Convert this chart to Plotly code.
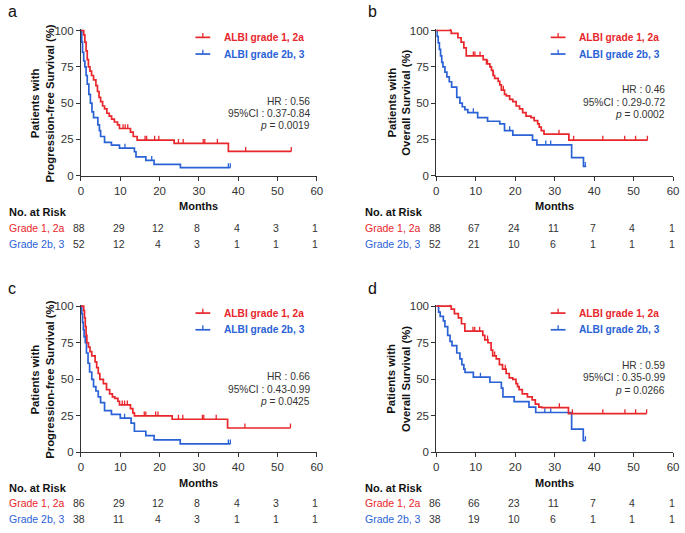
import numpy as np
import plotly.graph_objects as go

W, H = 685, 533
RED = "#E8262B"
BLUE = "#2A62D6"
TXT = "#333333"
FONT = "Liberation Sans, Arial, sans-serif"

# ---------------- data ----------------
months_ticks = [0, 10, 20, 30, 40, 50, 60]
surv_ticks = [0, 25, 50, 75, 100]

# Panel a (PFS)
a_red_t = [0, 0.7, 1.0, 1.3, 1.6, 1.9, 2.3, 2.7, 3.2, 3.8, 4.2, 4.6, 5.0, 5.5, 6.0, 6.6, 7.2, 7.8, 8.5, 9.3, 9.8, 12.6, 13.3, 14.3, 23.7, 37.5, 53.5]
a_red_s = [100, 97, 92, 86, 80, 75, 72, 69, 66, 62, 58, 54, 51, 48, 46, 43, 41, 39, 37, 35, 32.5, 30, 27, 24.5, 22.3, 16.7, 16.7]
a_red_c = [10.7, 11.25, 11.9, 16.3, 16.7, 18.75, 19.8, 24.8, 26.0, 31.1, 31.5, 34.7, 41.9, 53.5]
a_blue_t = [0, 0.2, 0.4, 0.7, 1.0, 1.3, 1.6, 2.0, 2.4, 2.8, 3.2, 4.3, 4.7, 5.0, 6.0, 7.75, 9.8, 13.6, 14.0, 16.5, 18.6, 25.3, 38.0]
a_blue_s = [100, 92, 85, 79, 75, 69, 63, 56, 50, 44, 40, 35, 31, 27, 23, 21, 19, 16.5, 13, 10.5, 7.8, 5.6, 5.6]
a_blue_c = [11.2, 18.0, 37.5, 38.0]

# Panel b (OS)
b_red_t = [0, 3.8, 5.5, 6.3, 7.0, 7.6, 11.9, 12.75, 13.6, 14.0, 14.4, 14.8, 15.7, 16.1, 16.5, 17.3, 17.75, 18.6, 19.4, 20.25, 21.1, 21.9, 22.75, 24.0, 24.8, 25.7, 26.1, 26.6, 27.3, 33.6, 53.5]
b_red_s = [100, 98, 95, 92, 88, 82.5, 80, 77, 75, 72.5, 69, 67, 65, 62.5, 59, 56, 55, 52.5, 51, 48, 46, 43.5, 41, 40, 38, 35.7, 33.5, 31, 28.6, 24.5, 24.5]
b_red_c = [3.6, 9.4, 9.8, 11.1, 13.0, 14.5, 17.0, 31.1, 34.8, 42.2, 47.75, 50.5, 53.5]
b_blue_t = [0, 0.2, 0.5, 0.8, 1.1, 1.4, 1.7, 2.2, 2.7, 3.3, 3.9, 5.2, 6.0, 6.6, 7.25, 8.0, 10.5, 13.0, 16.1, 17.3, 19.4, 24.4, 25.5, 34.3, 37.3, 38.0]
b_blue_s = [100, 96, 91.5, 87, 82.5, 78, 75, 71.4, 68, 64.7, 61, 54, 50, 47.5, 45.5, 43.5, 40, 37.5, 35.7, 31, 28, 24.5, 21.3, 12.5, 6.5, 6.5]
b_blue_c = [9.4, 18.6, 27.75, 29.0, 37.75]

# Panel c (PFS)
c_red_t = [0, 0.7, 0.9, 1.1, 1.3, 1.5, 1.9, 2.3, 2.75, 3.6, 4.0, 4.4, 4.8, 5.7, 6.5, 7.3, 8.0, 8.6, 9.4, 9.8, 12.6, 13.2, 13.6, 23.2, 37.3, 53.3]
c_red_s = [100, 97, 92, 86, 80, 75, 72, 69, 66, 62, 58, 54, 50, 47, 43, 40, 38, 37, 35, 32.5, 30, 27, 25, 22.7, 16.7, 16.7]
c_red_c = [10.5, 11.1, 11.8, 16.1, 16.5, 19.0, 19.6, 24.8, 25.9, 30.9, 31.25, 34.4, 41.7, 53.3]
c_blue_t = [0, 0.2, 0.4, 0.6, 0.8, 1.1, 1.4, 1.8, 2.2, 2.75, 3.2, 3.8, 4.4, 5.0, 6.0, 7.75, 10.0, 12.75, 13.6, 16.5, 18.6, 25.25, 38.0]
c_blue_s = [100, 95, 89, 84, 79, 75, 68, 61, 55, 50, 45, 42, 38, 34, 28.6, 26, 23.5, 20, 14.5, 11.5, 8.6, 5.8, 5.8]
c_blue_c = [11.1, 37.5, 38.0]

# Panel d (OS)
d_red_t = [0, 3.8, 4.6, 5.6, 6.4, 7.25, 11.8, 12.3, 13.1, 13.9, 14.3, 15.2, 16.0, 16.8, 17.7, 18.5, 19.4, 20.2, 20.6, 21.0, 21.8, 23.1, 24.3, 25.1, 26.0, 26.8, 33.5, 53.3]
d_red_s = [100, 98, 95, 92, 88, 83, 80, 77, 75, 70, 66, 64, 60, 57, 54, 51, 50, 47, 45, 43, 40, 38, 36, 33, 31, 30.6, 26.6, 26.6]
d_red_c = [3.5, 9.3, 9.75, 11.0, 13.0, 14.8, 17.5, 31.2, 34.5, 42.2, 47.8, 50.5, 53.3]
d_blue_t = [0, 0.6, 1.0, 1.8, 2.2, 2.9, 3.5, 4.0, 5.2, 6.0, 6.5, 7.0, 7.3, 9.4, 13.6, 16.5, 16.9, 19.75, 23.5, 25.2, 34.3, 37.25, 37.8]
d_blue_s = [100, 96, 93, 90, 86, 80, 76, 73, 68, 64, 60, 57, 54.8, 51.5, 48, 44, 38, 34.7, 31, 27.3, 16, 8, 8]
d_blue_c = [11.2, 27.5, 29.0, 37.8]

legend_red = "ALBI grade 1, 2a"
legend_blue = "ALBI grade 2b, 3"
row_red = "Grade 1, 2a"
row_blue = "Grade 2b, 3"

a_stats = ["HR : 0.56", "95%CI : 0.37-0.84", "<i>p</i> = 0.0019"]
b_stats = ["HR : 0.46", "95%CI : 0.29-0.72", "<i>p</i> = 0.0002"]
c_stats = ["HR : 0.66", "95%CI : 0.43-0.99", "<i>p</i> = 0.0425"]
d_stats = ["HR : 0.59", "95%CI : 0.35-0.99", "<i>p</i> = 0.0266"]

risk_months = [0, 10, 20, 30, 40, 50, 60]
a_risk_red = [88, 29, 12, 8, 4, 3, 1]
a_risk_blue = [52, 12, 4, 3, 1, 1, 1]
b_risk_red = [88, 67, 24, 11, 7, 4, 1]
b_risk_blue = [52, 21, 10, 6, 1, 1, 1]
c_risk_red = [86, 29, 12, 8, 4, 3, 1]
c_risk_blue = [38, 11, 4, 3, 1, 1, 1]
d_risk_red = [86, 66, 23, 11, 7, 4, 1]
d_risk_blue = [38, 19, 10, 6, 1, 1, 1]

pfs_title = "Patients with<br>Progression-free Survival (%)"
os_title = "Patients with<br>Overall Survival (%)"

# ---------------- layout geometry (pixels) ----------------
def px(x, y):
    return x / W, 1 - y / H

panels = [
    dict(letter="a", x0=79, x1=318, yb=175, yt=27,
         red=(a_red_t, a_red_s, a_red_c), blue=(a_blue_t, a_blue_s, a_blue_c),
         stats=a_stats, stat_x=313, stat_y=[99, 112, 124],
         risk=(a_risk_red, a_risk_blue), title=pfs_title, risk_left=4,
         risk_y=[206, 211.5, 228.5, 245], leg_x=195, leg_y=[34, 51],
         title_x=40, letter_xy=(3, 8)),
    dict(letter="b", x0=439, x1=679, yb=175, yt=27,
         red=(b_red_t, b_red_s, b_red_c), blue=(b_blue_t, b_blue_s, b_blue_c),
         stats=b_stats, stat_x=673, stat_y=[87, 100, 113],
         risk=(b_risk_red, b_risk_blue), title=os_title, risk_left=365,
         risk_y=[206, 211.5, 228.5, 245], leg_x=555, leg_y=[34, 51],
         title_x=401, letter_xy=(368, 8)),
    dict(letter="c", x0=79, x1=318, yb=457, yt=308,
         red=(c_red_t, c_red_s, c_red_c), blue=(c_blue_t, c_blue_s, c_blue_c),
         stats=c_stats, stat_x=313, stat_y=[380, 393, 405],
         risk=(c_risk_red, c_risk_blue), title=pfs_title, risk_left=4,
         risk_y=[488, 493.5, 509, 524.5], leg_x=195, leg_y=[315, 332],
         title_x=40, letter_xy=(3, 290)),
    dict(letter="d", x0=439, x1=679, yb=457, yt=308,
         red=(d_red_t, d_red_s, d_red_c), blue=(d_blue_t, d_blue_s, d_blue_c),
         stats=d_stats, stat_x=673, stat_y=[368, 381, 393.5],
         risk=(d_risk_red, d_risk_blue), title=os_title, risk_left=365,
         risk_y=[488, 493.5, 509, 524.5], leg_x=555, leg_y=[315, 332],
         title_x=401, letter_xy=(368, 290)),
]

YTOP = 101.0

fig = go.Figure()
annotations = []
shapes = []
layout_axes = {}


def step_value(t, times, surv):
    idx = np.searchsorted(np.asarray(times), t, side="right") - 1
    return np.asarray(surv)[idx]


for i, p in enumerate(panels, start=1):
    xa = "x" if i == 1 else f"x{i}"
    ya = "y" if i == 1 else f"y{i}"
    xname = "xaxis" if i == 1 else f"xaxis{i}"
    yname = "yaxis" if i == 1 else f"yaxis{i}"

    h100 = p["yb"] - p["yt"]
    top_px = p["yb"] - h100 * YTOP / 100.0
    layout_axes[xname] = dict(
        domain=[p["x0"] / W, p["x1"] / W], range=[0, 60], anchor=ya,
        tickvals=months_ticks, ticks="outside", ticklen=4, tickwidth=1,
        tickcolor=TXT, showline=True, linecolor=TXT, linewidth=1,
        showgrid=False, zeroline=False,
        tickfont=dict(family=FONT, size=11.5, color=TXT),
    )
    layout_axes[yname] = dict(
        domain=[1 - p["yb"] / H, 1 - top_px / H], range=[0, YTOP], anchor=xa,
        tickvals=surv_ticks, ticks="outside", ticklen=4, tickwidth=1,
        tickcolor=TXT, showline=True, linecolor=TXT, linewidth=1,
        showgrid=False, zeroline=False,
        tickfont=dict(family=FONT, size=11.5, color=TXT),
    )

    for (t, s, c), col in ((p["blue"], BLUE), (p["red"], RED)):
        fig.add_trace(go.Scatter(
            x=t, y=s, mode="lines", line=dict(color=col, width=1.7, shape="hv"),
            xaxis=xa, yaxis=ya, showlegend=False, hoverinfo="skip"))
        cs = step_value(c, t, s)
        # censor ticks: short vertical marks rising from the curve
        fig.add_trace(go.Scatter(
            x=c, y=cs, mode="markers", cliponaxis=False,
            marker=dict(size=1, color=col, opacity=0),
            error_y=dict(type="constant", symmetric=False, value=3.0, valueminus=0,
                         width=0, thickness=1.3, color=col),
            xaxis=xa, yaxis=ya, showlegend=False, hoverinfo="skip"))

    # panel letter
    lx, ly = px(*p["letter_xy"])
    annotations.append(dict(x=lx, y=ly, xref="paper", yref="paper", text=p["letter"],
                            showarrow=False, xanchor="left", yanchor="middle",
                            font=dict(family=FONT, size=16, color="#111111")))
    # y-axis title
    tx, ty = px(p["title_x"], (p["yb"] + p["yt"]) / 2)
    annotations.append(dict(x=tx, y=ty, xref="paper", yref="paper",
                            text="<b>" + p["title"] + "</b>", textangle=-90,
                            showarrow=False, xanchor="center", yanchor="middle",
                            font=dict(family=FONT, size=11.3, color="#111111")))
    # legend
    for name, col, ly_px in ((legend_red, RED, p["leg_y"][0]), (legend_blue, BLUE, p["leg_y"][1])):
        x0 = p["leg_x"]
        shapes.append(dict(type="line", xref="paper", yref="paper",
                           x0=x0 / W, x1=(x0 + 15) / W, y0=1 - ly_px / H, y1=1 - ly_px / H,
                           line=dict(color=col, width=1.7)))
        shapes.append(dict(type="line", xref="paper", yref="paper",
                           x0=(x0 + 7.5) / W, x1=(x0 + 7.5) / W,
                           y0=1 - ly_px / H, y1=1 - (ly_px - 4.5) / H,
                           line=dict(color=col, width=1.3)))
        ax_, ay_ = px(x0 + 27, ly_px)
        annotations.append(dict(x=ax_, y=ay_, xref="paper", yref="paper",
                                text="<b>" + name + "</b>", showarrow=False,
                                xanchor="left", yanchor="middle",
                                font=dict(family=FONT, size=10.2, color=col)))
    # stats
    for txt, sy in zip(p["stats"], p["stat_y"]):
        sx, syy = px(p["stat_x"], sy)
        annotations.append(dict(x=sx, y=syy, xref="paper", yref="paper", text=txt,
                                showarrow=False, xanchor="right", yanchor="middle",
                                font=dict(family=FONT, size=10.2, color=TXT)))
    # risk table
    ry = p["risk_y"]
    mx, my = px((p["x0"] + p["x1"]) / 2, ry[0])
    annotations.append(dict(x=mx, y=my, xref="paper", yref="paper", text="<b>Months</b>",
                            showarrow=False, xanchor="center", yanchor="middle",
                            font=dict(family=FONT, size=11, color="#111111")))
    nx, ny = px(p["risk_left"], ry[1])
    annotations.append(dict(x=nx, y=ny, xref="paper", yref="paper", text="<b>No. at Risk</b>",
                            showarrow=False, xanchor="left", yanchor="middle",
                            font=dict(family=FONT, size=11, color="#111111")))
    for label, col, vals, yy in ((row_red, RED, p["risk"][0], ry[2]),
                                 (row_blue, BLUE, p["risk"][1], ry[3])):
        gx, gy = px(p["risk_left"], yy)
        annotations.append(dict(x=gx, y=gy, xref="paper", yref="paper", text=label,
                                showarrow=False, xanchor="left", yanchor="middle",
                                font=dict(family=FONT, size=10.5, color=col)))
        for v, m in zip(vals, risk_months):
            # numbers sit under the month ticks of the panel's x axis
            xm = p["x0"] + (p["x1"] - p["x0"]) * m / 60.0 - 1.5
            vx, vy = px(xm, yy)
            annotations.append(dict(x=vx, y=vy, xref="paper", yref="paper", text=str(v),
                                    showarrow=False, xanchor="center", yanchor="middle",
                                    font=dict(family=FONT, size=10.5, color=TXT)))

fig.update_layout(
    width=W, height=H, margin=dict(l=0, r=0, t=0, b=0),
    paper_bgcolor="white", plot_bgcolor="white",
    showlegend=False, annotations=annotations, shapes=shapes,
    font=dict(family=FONT, color=TXT),
)
fig.update_layout(**layout_axes)

fig.write_html("out.html",
               config={"displayModeBar": False, "staticPlot": True},
               post_script="document.body.style.margin='0px';document.body.style.overflow='hidden';")
